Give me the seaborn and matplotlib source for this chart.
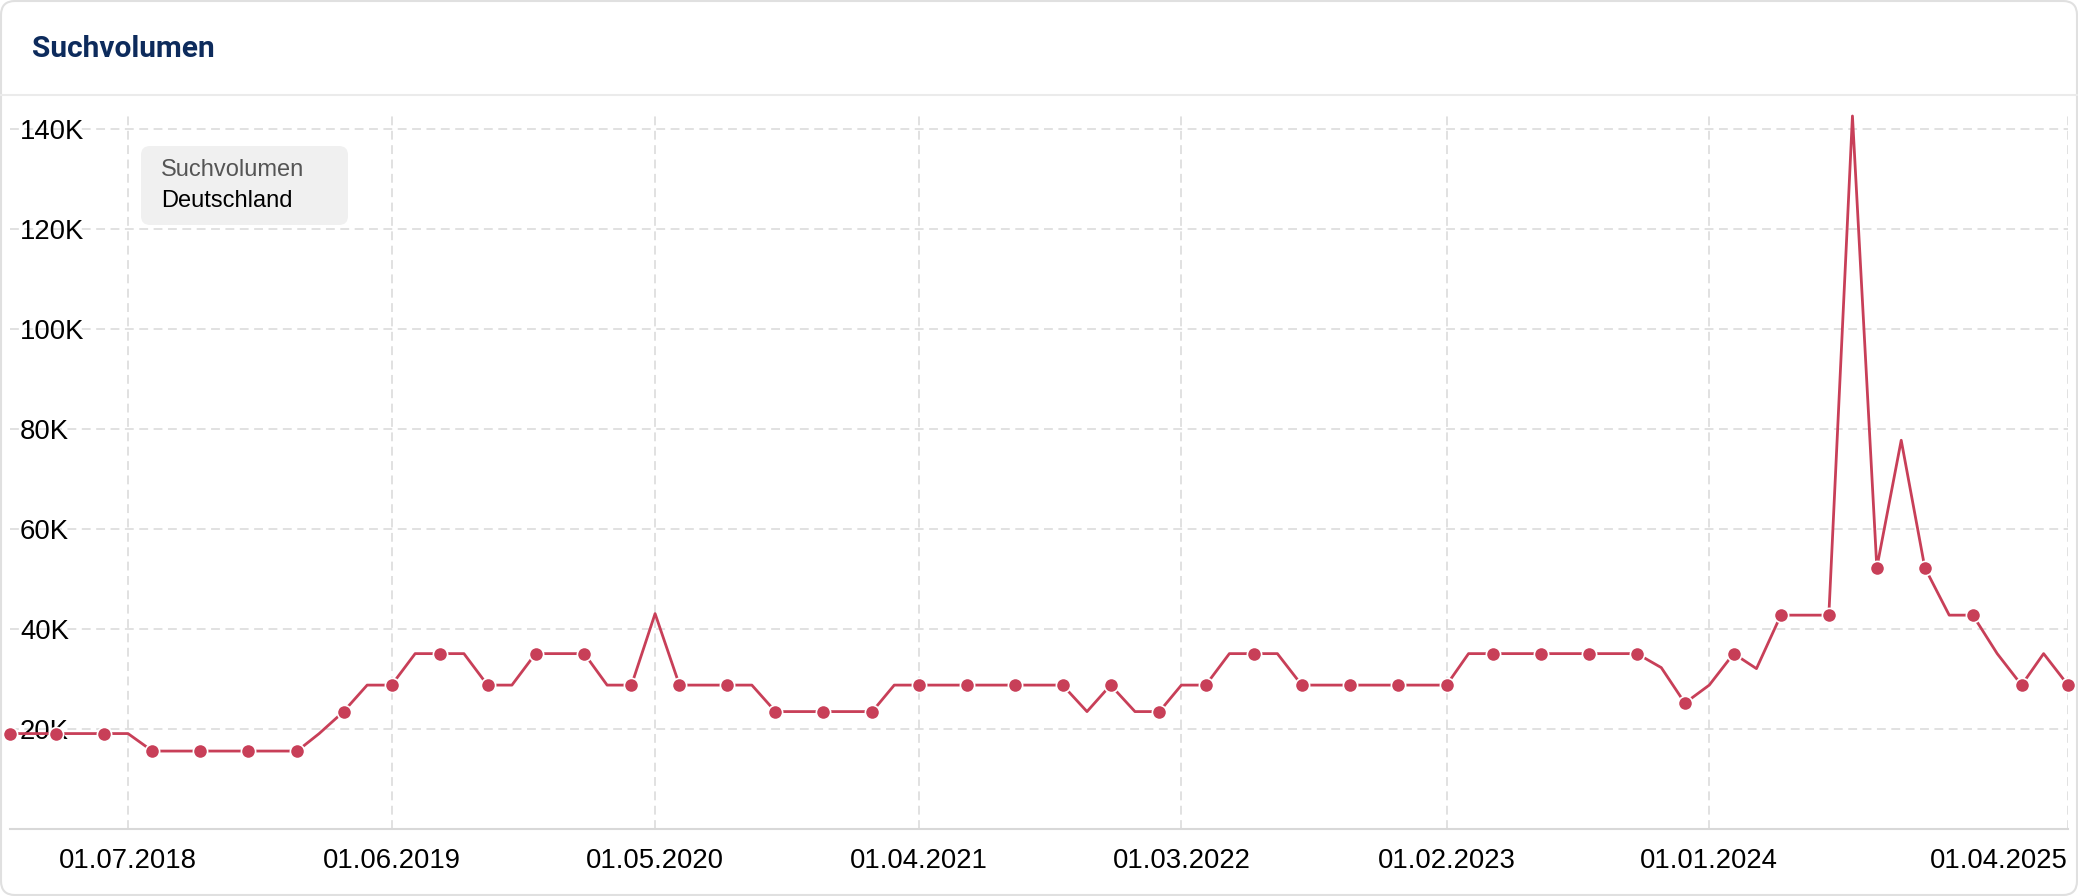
import numpy as np
import pandas as pd
import matplotlib
matplotlib.use('Agg')
import matplotlib.pyplot as plt
import seaborn as sns
from matplotlib.patches import FancyBboxPatch
from matplotlib.lines import Line2D
from matplotlib.transforms import IdentityTransform

# monthly search volume, Feb 2018 - Apr 2025
months = pd.date_range('2018-02-01', '2025-04-01', freq='MS')
volume = [19100, 19100, 19100, 19100, 19100, 19100, 15600, 15600, 15600, 15600,
          15600, 15600, 15600, 19100, 23500, 28800, 28800, 35100, 35100, 35100,
          28800, 28800, 35100, 35100, 35100, 28800, 28800, 43100, 28800, 28800,
          28800, 28800, 23500, 23500, 23500, 23500, 23500, 28800, 28800, 28800,
          28800, 28800, 28800, 28800, 28800, 23500, 28800, 23500, 23500, 28800,
          28800, 35100, 35100, 35100, 28800, 28800, 28800, 28800, 28800, 28800,
          28800, 35100, 35100, 35100, 35100, 35100, 35100, 35100, 35100, 32300,
          25200, 28800, 35100, 32100, 42800, 42800, 42800, 142700, 52300, 77800,
          52300, 42800, 42800, 35100, 28800, 35100, 28800]

tick_dates = pd.to_datetime(['2018-07-01', '2019-06-01', '2020-05-01', '2021-04-01',
                             '2022-03-01', '2023-02-01', '2024-01-01', '2025-04-01'])
tick_labels = ['01.07.2018', '01.06.2019', '01.05.2020', '01.04.2021',
               '01.03.2022', '01.02.2023', '01.01.2024', '01.04.2025']
y_ticks = [20000, 40000, 60000, 80000, 100000, 120000, 140000]
y_labels = ['20K', '40K', '60K', '80K', '100K', '120K', '140K']

df = pd.DataFrame({'month': months, 'volume': volume})
markers = df.iloc[::2]

sns.set_style('white')
plt.rcParams['font.family'] = ['Liberation Sans', 'DejaVu Sans']

W, H = 2078, 896
fig = plt.figure(figsize=(W / 100, H / 100), dpi=100)
fig.patch.set_facecolor('white')

ax = fig.add_axes([10 / W, 1 - 829 / H, 2058 / W, 713 / H])
red = '#c83f58'
sns.lineplot(data=df, x='month', y='volume', ax=ax, color=red, linewidth=2.0,
             zorder=3, clip_on=False)
sns.scatterplot(data=markers, x='month', y='volume', ax=ax, color=red, s=105,
                edgecolor='white', linewidth=1.2, zorder=4, clip_on=False)

ax.set_xlim(months[0], months[-1])
ax.set_ylim(0, max(volume))
ax.set_xticks(tick_dates, labels=tick_labels)
ax.set_yticks(y_ticks, labels=y_labels)
ax.set_xlabel('')
ax.set_ylabel('')

ax.grid(True, color='#d9d9d9', linestyle=(0, (5.8, 3.6)), linewidth=1.1)
ax.tick_params(axis='x', length=0, pad=14, labelsize=19.8, labelcolor='black')
ax.tick_params(axis='y', length=0, pad=-7.2, labelsize=19.8, labelcolor='black')
for lbl in ax.get_yticklabels():
    lbl.set_horizontalalignment('left')
ax.get_xticklabels()[-1].set_horizontalalignment('right')

for side in ['top', 'right', 'left']:
    ax.spines[side].set_visible(False)
ax.spines['bottom'].set_color('#d8d8d8')
ax.spines['bottom'].set_linewidth(1.5)

# legend-like box
box = FancyBboxPatch((141, H - 225), 207, 79, boxstyle='round,pad=0,rounding_size=9',
                     facecolor='#f0f0f0', edgecolor='none', transform=IdentityTransform(), zorder=5)
fig.add_artist(box)
fig.text(161 / W, 1 - 170 / H, 'Suchvolumen', fontsize=17, color='#555555', va='center', zorder=6)
fig.text(161 / W, 1 - 201 / H, 'Deutschland', fontsize=17, color='black', va='center', zorder=6)

# header
fig.text(32 / W, 1 - 49 / H, 'Suchvolumen', fontsize=21.5, fontweight='bold',
         color='#0d2b5c', va='center', family=['Roboto', 'DejaVu Sans'])
fig.add_artist(Line2D([0, 1], [1 - 95 / H, 1 - 95 / H], color='#ebebeb', linewidth=1.5))

# card border
card = FancyBboxPatch((1, 1), W - 2, H - 2, boxstyle='round,pad=0,rounding_size=14',
                      facecolor='none', edgecolor='#e0e0e0', linewidth=1.5,
                      transform=IdentityTransform())
fig.add_artist(card)

plt.savefig('out.png', dpi=100)
